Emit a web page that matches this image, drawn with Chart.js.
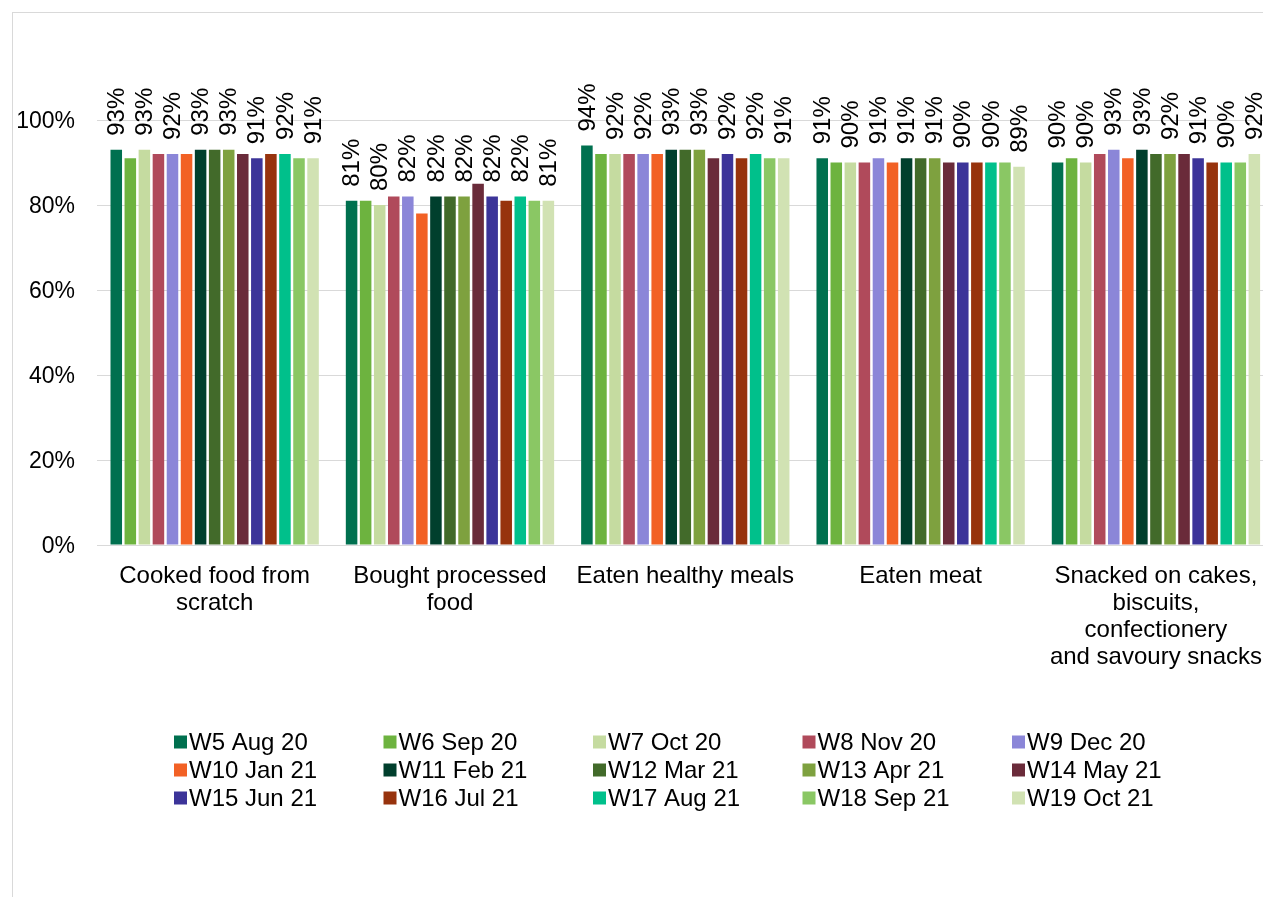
<!DOCTYPE html>
<html>
<head>
<meta charset="utf-8">
<script src="https://cdn.jsdelivr.net/npm/chart.js@4.4.1/dist/chart.umd.min.js"></script>
<style>
  html, body { margin: 0; padding: 0; background: #fff; overflow: hidden; }
  .frame {
    position: absolute; left: 12px; top: 12px;
    border-top: 1px solid #d9d9d9; border-left: 1px solid #d9d9d9;
  }
  canvas { display: block; }
</style>
</head>
<body>
<div class="frame"><canvas id="chart" width="1262" height="884"></canvas></div>
<script>
// Food behaviours, share of respondents per survey wave
const categories = [
  ['Cooked food from', 'scratch'],
  ['Bought processed', 'food'],
  ['Eaten healthy meals'],
  ['Eaten meat'],
  ['Snacked on cakes,', 'biscuits,', 'confectionery', 'and savoury snacks']
];

const waves = [
  'W5 Aug 20', 'W6 Sep 20', 'W7 Oct 20', 'W8 Nov 20', 'W9 Dec 20',
  'W10 Jan 21', 'W11 Feb 21', 'W12 Mar 21', 'W13 Apr 21', 'W14 May 21',
  'W15 Jun 21', 'W16 Jul 21', 'W17 Aug 21', 'W18 Sep 21', 'W19 Oct 21'
];

// One value per wave (W5 .. W19), in percent
const cookedFromScratch = [93, 91, 93, 92, 92, 92, 93, 93, 93, 92, 91, 92, 92, 91, 91];
const boughtProcessed   = [81, 81, 80, 82, 82, 78, 82, 82, 82, 85, 82, 81, 82, 81, 81];
const eatenHealthy      = [94, 92, 92, 92, 92, 92, 93, 93, 93, 91, 92, 91, 92, 91, 91];
const eatenMeat         = [91, 90, 90, 90, 91, 90, 91, 91, 91, 90, 90, 90, 90, 90, 89];
const snacked           = [90, 91, 90, 92, 93, 91, 93, 92, 92, 92, 91, 90, 90, 90, 92];

const yTicks = [0, 20, 40, 60, 80, 100];

const waveColors = [
  '#00704F', '#6DB33F', '#C5DBA0', '#B04A5B', '#8B86D8',
  '#F26125', '#003F2D', '#426A2A', '#7EA13F', '#6A2B3A',
  '#3C3499', '#97330D', '#00C08B', '#8AC764', '#D1E2B3'
];

const FONT = '"Liberation Sans", Arial, Helvetica, sans-serif';

const byCategory = [cookedFromScratch, boughtProcessed, eatenHealthy, eatenMeat, snacked];

const datasets = waves.map((w, i) => ({
  label: w,
  data: byCategory.map(row => row[i]),
  backgroundColor: waveColors[i],
  borderWidth: 0,
  categoryPercentage: 0.896,
  barPercentage: 0.82
}));

// Rotated value labels on every other wave, starting with the first
const valueLabels = {
  id: 'valueLabels',
  afterDatasetsDraw(chart) {
    const ctx = chart.ctx;
    ctx.save();
    ctx.font = '24px ' + FONT;
    ctx.fillStyle = '#000';
    ctx.textAlign = 'left';
    ctx.textBaseline = 'middle';
    chart.data.datasets.forEach((ds, i) => {
      if (i % 2 !== 0) return;
      const meta = chart.getDatasetMeta(i);
      meta.data.forEach((bar, j) => {
        ctx.save();
        ctx.translate(bar.x + 1, bar.y - 14);
        ctx.rotate(-Math.PI / 2);
        ctx.fillText(ds.data[j] + '%', 0, 0);
        ctx.restore();
      });
    });
    ctx.restore();
  }
};

// Legend laid out as a fixed 5-column grid under the axis labels
const gridLegend = {
  id: 'gridLegend',
  afterDraw(chart) {
    const ctx = chart.ctx;
    const cols = 5, colW = 209.5, rowH = 28, box = 13;
    const x0 = 161, y0 = chart.chartArea.bottom + 197;
    ctx.save();
    ctx.font = '24px ' + FONT;
    ctx.textAlign = 'left';
    ctx.textBaseline = 'middle';
    chart.data.datasets.forEach((ds, i) => {
      const x = x0 + (i % cols) * colW;
      const y = y0 + Math.floor(i / cols) * rowH;
      ctx.fillStyle = ds.backgroundColor;
      ctx.fillRect(x, y - box / 2, box, box);
      ctx.fillStyle = '#000';
      ctx.fillText(ds.label, x + 15, y + 1);
    });
    ctx.restore();
  }
};

new Chart(document.getElementById('chart'), {
  type: 'bar',
  data: { labels: categories, datasets },
  plugins: [valueLabels, gridLegend],
  options: {
    responsive: false,
    animation: false,
    layout: { padding: { top: 107, right: 0, bottom: 0, left: 0 } },
    plugins: {
      legend: { display: false },
      tooltip: { enabled: false }
    },
    scales: {
      x: {
        // hidden tick marks push the category names down without widening the side padding
        grid: { display: false, drawTicks: true, tickLength: 5, color: 'rgba(0,0,0,0)' },
        border: { display: true, color: '#d9d9d9', width: 1 },
        ticks: {
          color: '#000',
          font: { family: FONT, size: 24, lineHeight: 1.125 },
          padding: 13,
          autoSkip: false,
          maxRotation: 0,
          minRotation: 0
        },
        afterFit(scale) { scale.height = 352; }
      },
      y: {
        min: 0,
        max: 100,
        afterBuildTicks(scale) { scale.ticks = yTicks.map(v => ({ value: v })); },
        grid: { color: '#d9d9d9', lineWidth: 1, drawTicks: false },
        border: { display: false },
        ticks: {
          color: '#000',
          font: { family: FONT, size: 23 },
          padding: 22,
          labelOffset: 2,
          callback: v => v + '%'
        },
        afterFit(scale) { scale.width = 84; }
      }
    }
  }
});
</script>
</body>
</html>
